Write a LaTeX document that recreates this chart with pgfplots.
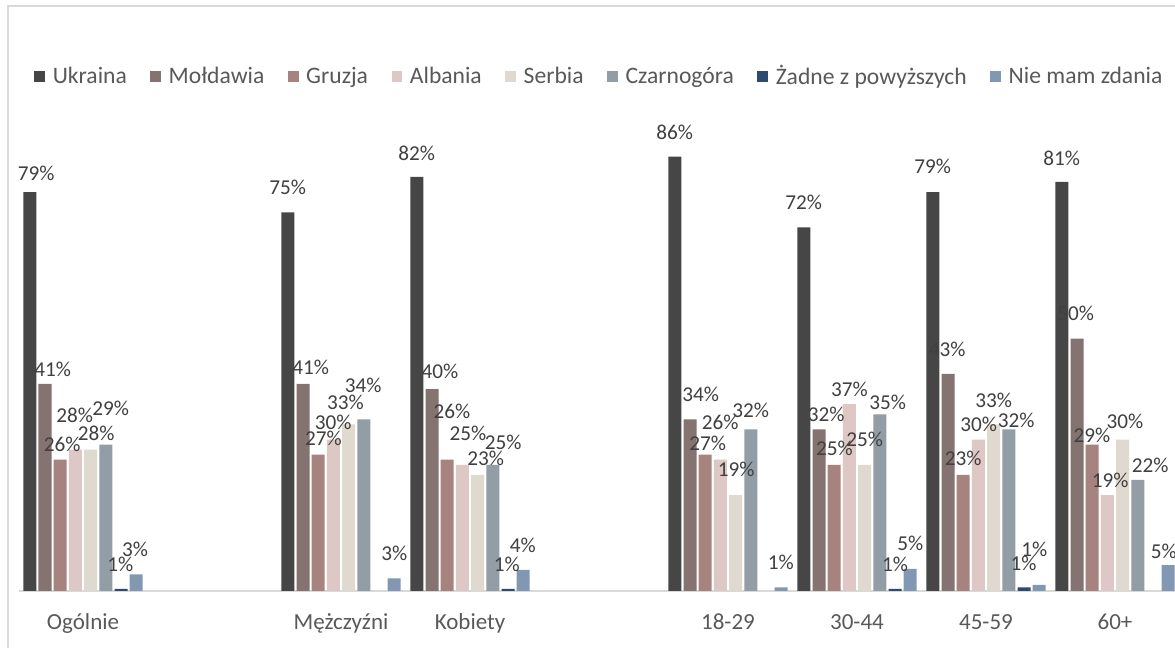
\documentclass[border=0pt]{standalone}
\usepackage{fontspec}
\setmainfont{Carlito}
\usepackage{pgfplots}
\pgfplotsset{compat=1.18}
\usepackage{pgfplotstable}

\definecolor{c1}{HTML}{464646}
\definecolor{c2}{HTML}{857371}
\definecolor{c3}{HTML}{A7837F}
\definecolor{c4}{HTML}{DEC8C6}
\definecolor{c5}{HTML}{E0D9CF}
\definecolor{c6}{HTML}{939DA5}
\definecolor{c7}{HTML}{2E4A6F}
\definecolor{c8}{HTML}{8297B1}
\definecolor{framegray}{HTML}{D9D9D9}
\definecolor{axisgray}{HTML}{D9D9D9}
\definecolor{txtgray}{HTML}{595959}
\definecolor{labgray}{HTML}{404040}

% x = category (0 Ogolnie, 2 Mezczyzni, 3 Kobiety, 5 18-29, 6 30-44, 7 45-59, 8 60+)
% y = bar height, lab = label text, ox/oy = label offset in px (right / up from bar top)
\pgfplotstableread{
x y lab ox oy
0 79 79 6.3 19
2 75 75 0 24.7
3 82 82 0 23.3
5 86 86 0 24.3
6 72 72 0 25
7 79 79 0 25.7
8 81 81 0 24
}\tUkr
\pgfplotstableread{
x y lab ox oy
0 41 41 7.8 15
2 41 41 7.8 17
3 40 40 8 17.3
5 34 34 10.8 24.7
6 32 32 7.3 15
7 43 43 -0.8 24.3
8 50 50 -1.2 25
}\tMol
\pgfplotstableread{
x y lab ox oy
0 26 26 2 15
2 27 27 5.3 16.7
3 26 26 4.8 48.3
5 27 27 2.5 11.7
6 25 25 0.2 16.7
7 23 23 0 16.3
8 29 29 -0.2 9.3
}\tGru
\pgfplotstableread{
x y lab ox oy
0 28 28 -0.7 34
2 30 30 -0.3 17.3
3 25 25 5.5 31.7
5 26 26 -0.3 37.7
6 37 37 0 15
7 30 30 0.3 15.3
8 19 19 2.7 15
}\tAlb
\pgfplotstableread{
x y lab ox oy
0 28 28 5.5 16
2 33 33 -3.2 21.7
3 23 23 8 16
5 19 19 0.5 25.7
6 25 25 0 25
7 33 33 0 24.3
8 30 30 2.3 18.3
}\tSer
\pgfplotstableread{
x y lab ox oy
0 29 29 4.9 35.7
2 34 34 -0.5 34.3
3 25 25 10.4 22.7
5 32 32 0 19.3
6 35 35 7.8 12.3
7 32 32 7.5 9
8 22 22 12.5 14.4
}\tCza
\pgfplotstableread{
x y lab ox oy
0 0.4 1 -0.7 25
3 0.4 1 -1.2 25
6 0.4 1 0 25
7 0.7 1 -0.5 24.3
}\tZad
\pgfplotstableread{
x y lab ox oy
0 3.3 3 -1.2 25
2 2.5 3 0 24.7
3 4.2 4 -0.5 24
5 0.7 1 -0.3 24.7
6 4.4 5 0 25
7 1.2 1 -5 35.7
8 5.1 5 -4.3 14.3
}\tNie

\begin{document}
\begin{tikzpicture}
\useasboundingbox (0,0) rectangle (587.5bp,324bp);
\clip (0,0) rectangle (587.5bp,324bp);
\fill[white] (0,0) rectangle (587.5bp,324bp);
\draw[framegray, line width=1bp] (4.15bp,-20bp) rectangle (620bp,321bp);
\begin{axis}[
  at={(9.25bp,28.5bp)}, anchor=south west,
  scale only axis, width=580.5bp, height=227.25bp,
  xmin=-0.5, xmax=8.5, ymin=0, ymax=90,
  ybar=1.1bp, bar width=6.5bp,
  axis y line=none, axis x line*=bottom,
  x axis line style={draw=axisgray, line width=1bp},
  xtick={0,2,3,5,6,7,8},
  xticklabels={Ogólnie,Mężczyźni,Kobiety,18-29,30-44,45-59,60+},
  major tick length=0pt,
  xtick style={draw=none},
  xticklabel style={anchor=base, yshift=-19.3bp, inner sep=0pt,
    font=\fontsize{11.5bp}{13bp}\selectfont, text=txtgray},
  clip=false,
  point meta=explicit symbolic,
  nodes near coords={\pgfplotspointmeta\%},
  visualization depends on={\thisrow{ox}\as\ox},
  visualization depends on={\thisrow{oy}\as\oy},
  every node near coord/.append style={font=\fontsize{10.6bp}{12bp}\selectfont,
    text=labgray, anchor=center, inner sep=0pt, xshift=\ox*0.5bp, yshift=\oy*0.5bp},
  every axis plot/.append style={draw=none,
    legend image code/.code={\fill[##1] (0bp,-2.7bp) rectangle (5.4bp,2.7bp);}},
  legend columns=-1,
  legend style={at={(axis description cs:0.0137,1.1320)}, anchor=west,
    draw=none, fill=none, inner sep=0pt, outer sep=0pt,
    nodes={inner sep=0pt, text=txtgray, font=\fontsize{11.8bp}{13bp}\selectfont},
    /tikz/every odd column/.style={column sep=3.8bp},
    /tikz/every even column/.style={column sep=11.75bp}},
]
\addplot[fill=c1] table[x=x,y=y,meta=lab] {\tUkr};
\addlegendentry{Ukraina}
\addplot[fill=c2] table[x=x,y=y,meta=lab] {\tMol};
\addlegendentry{Mołdawia}
\addplot[fill=c3] table[x=x,y=y,meta=lab] {\tGru};
\addlegendentry{Gruzja}
\addplot[fill=c4] table[x=x,y=y,meta=lab] {\tAlb};
\addlegendentry{Albania}
\addplot[fill=c5] table[x=x,y=y,meta=lab] {\tSer};
\addlegendentry{Serbia}
\addplot[fill=c6] table[x=x,y=y,meta=lab] {\tCza};
\addlegendentry{Czarnogóra}
\addplot[fill=c7] table[x=x,y=y,meta=lab] {\tZad};
\addlegendentry{Żadne z powyższych}
\addplot[fill=c8] table[x=x,y=y,meta=lab] {\tNie};
\addlegendentry{Nie mam zdania}
\end{axis}
\end{tikzpicture}
\end{document}
